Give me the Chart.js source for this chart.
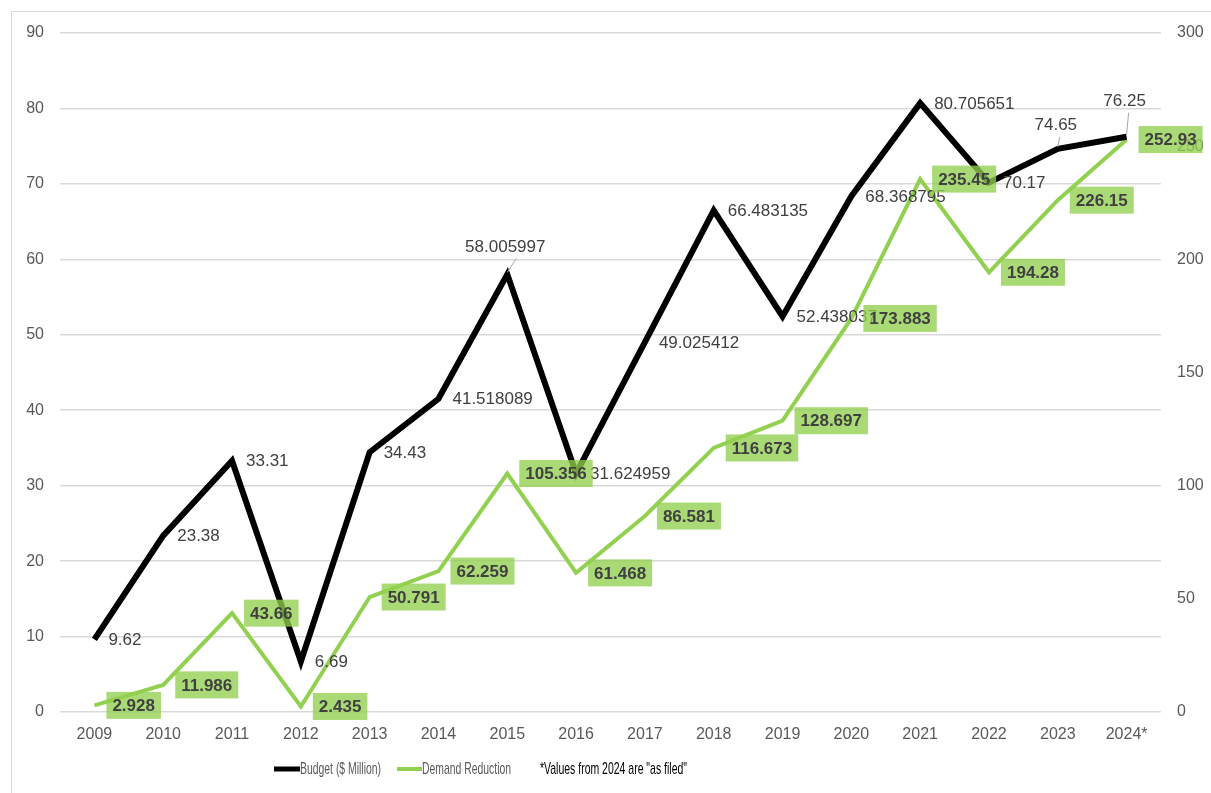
<!DOCTYPE html>
<html>
<head>
<meta charset="utf-8">
<script src="https://cdn.jsdelivr.net/npm/chart.js@4"></script>
<style>
  html, body { margin: 0; padding: 0; background: #fff; }
  #wrap { position: absolute; left: 0; top: 0; width: 1211px; height: 793px; }
</style>
</head>
<body>
<div id="wrap"><canvas id="chart"></canvas></div>
<script>
// chart data
const years = ['2009','2010','2011','2012','2013','2014','2015','2016','2017','2018','2019','2020','2021','2022','2023','2024*'];
const budget = [9.62, 23.38, 33.31, 6.69, 34.43, 41.518089, 58.005997, 31.624959, 49.025412, 66.483135, 52.438037, 68.368795, 80.705651, 70.17, 74.65, 76.25];
const demandReduction = [2.928, 11.986, 43.66, 2.435, 50.791, 62.259, 105.356, 61.468, 86.581, 116.673, 128.697, 173.883, 235.45, 194.28, 226.15, 252.93];
const leftTicks = [0, 90, 10];
const rightTicks = [0, 300, 50];
const note = '*Values from 2024 are "as filed"';

// labels that sit above their point (index -> lift in px), others go right
const liftedLabels = { 6: 27, 14: 23, 15: 35 };

const TEXT = '#404040';
const TICK = '#595959';
const GRID = '#d9d9d9';
const GREEN = '#92d050';
const FONT = '"Liberation Sans", Arial, sans-serif';

const frame = {
    id: 'frame',
    beforeDraw(chart){
        const c = chart.ctx;
        c.save();
        c.strokeStyle = GRID;
        c.lineWidth = 1;
        c.strokeRect(11.5, 11.5, 1300, 900);
        c.restore();
    }
};

const labels = {
    id: 'labels',
    afterDatasetsDraw(chart){
        const c = chart.ctx;
        c.save();
        c.textBaseline = 'middle';
        // budget labels
        const bm = chart.getDatasetMeta(0);
        c.font = '17px ' + FONT;
        c.fillStyle = TEXT;
        bm.data.forEach((p, i)=>{
            const txt = String(budget[i]);
            const lift = liftedLabels[i];
            if(lift){
                c.strokeStyle = '#a6a6a6';
                c.lineWidth = 1;
                c.beginPath();
                c.moveTo(p.x, p.y - 2);
                c.lineTo(p.x + (i === 6 ? 9 : 2), p.y - lift + 11);
                c.stroke();
                c.textAlign = 'center';
                c.fillText(txt, p.x - 2, p.y - lift);
            } else {
                c.textAlign = 'left';
                c.fillText(txt, p.x + 14, p.y + 1);
            }
        });
        // demand reduction boxes
        const gm = chart.getDatasetMeta(1);
        c.font = 'bold 17px ' + FONT;
        c.textAlign = 'left';
        gm.data.forEach((p, i)=>{
            const txt = String(demandReduction[i]);
            const w = c.measureText(txt).width;
            const x = p.x + 12, h = 27;
            c.fillStyle = 'rgba(146,208,80,0.78)';
            c.fillRect(x, p.y - h/2, w + 12, h);
            c.fillStyle = TEXT;
            c.fillText(txt, x + 6, p.y + 1);
        });
        c.restore();
    }
};

const legend = {
    id: 'customLegend',
    afterDraw(chart){
        const c = chart.ctx;
        const y = 769;
        c.save();
        c.textBaseline = 'middle';
        c.font = '17px ' + FONT;
        c.lineCap = 'butt';
        c.strokeStyle = '#000';
        c.lineWidth = 5;
        c.beginPath(); c.moveTo(274, y); c.lineTo(300, y); c.stroke();
        c.fillStyle = TICK;
        c.fillText(chart.data.datasets[0].label, 300, y, 81);
        c.strokeStyle = GREEN;
        c.lineWidth = 4;
        c.beginPath(); c.moveTo(397, y); c.lineTo(422, y); c.stroke();
        c.fillText(chart.data.datasets[1].label, 422, y, 89);
        c.fillStyle = '#000';
        c.fillText(note, 540, y, 147);
        c.restore();
    }
};

new Chart(document.getElementById('chart').getContext('2d'), {
    type: 'line',
    data: {
        labels: years,
        datasets: [
            { label: 'Budget ($ Million)', data: budget, yAxisID: 'y', borderColor: '#000', borderWidth: 6, pointRadius: 0, tension: 0, fill: false },
            { label: 'Demand Reduction', data: demandReduction, yAxisID: 'y1', borderColor: GREEN, borderWidth: 4, pointRadius: 0, tension: 0, fill: false }
        ]
    },
    options: {
        responsive: true,
        maintainAspectRatio: false,
        animation: false,
        layout: { padding: { top: 33, left: 0, right: 0, bottom: 0 } },
        plugins: { legend: { display: false }, tooltip: { enabled: false } },
        scales: {
            x: {
                offset: true,
                grid: { display: false },
                border: { display: false },
                ticks: { color: TICK, font: { family: FONT, size: 16 }, padding: 5, maxRotation: 0, autoSkip: false },
                afterFit(s){ s.height = 81; }
            },
            y: {
                position: 'left',
                min: leftTicks[0], max: leftTicks[1],
                ticks: { stepSize: leftTicks[2], color: TICK, font: { family: FONT, size: 16 }, padding: 16 },
                grid: { color: GRID, lineWidth: 1.5, drawTicks: false },
                border: { display: false },
                afterFit(s){ s.width = 60; }
            },
            y1: {
                position: 'right',
                min: rightTicks[0], max: rightTicks[1],
                ticks: { stepSize: rightTicks[2], color: TICK, font: { family: FONT, size: 16 }, padding: 16 },
                grid: { display: false, drawTicks: false },
                border: { display: false },
                afterFit(s){ s.width = 50; }
            }
        }
    },
    plugins: [frame, labels, legend]
});
</script>
</body>
</html>
